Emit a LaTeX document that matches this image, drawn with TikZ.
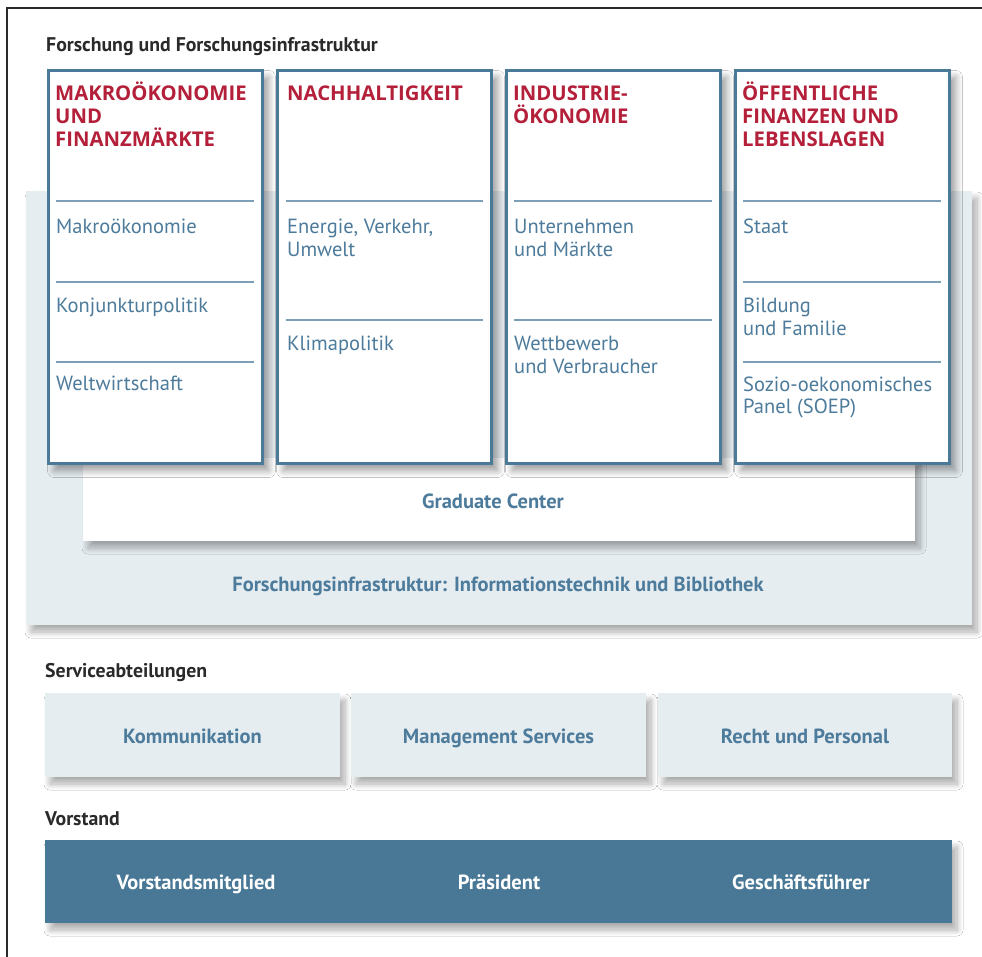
\documentclass[tikz,border=0pt]{standalone}
\usepackage{fontspec}
\setmainfont{PT Sans}
\newfontfamily\headfont{Open Sans}
\usetikzlibrary{shadows.blur}
\definecolor{framecol}{HTML}{2B2B2B}
\definecolor{redcol}{HTML}{B41F3A}
\definecolor{bluetext}{HTML}{4D7B9B}
\definecolor{bordercol}{HTML}{4B7A99}
\definecolor{sepcol}{HTML}{7C9FB7}
\definecolor{lightfill}{HTML}{E6EDF1}
\definecolor{darkfill}{HTML}{487896}
\definecolor{labelcol}{HTML}{2A2A2A}
\tikzset{
  shad/.style={blur shadow={shadow xshift=5pt, shadow yshift=-7pt, shadow blur radius=6pt, shadow blur steps=12, shadow opacity=32}},
  colshad/.style={blur shadow={shadow xshift=6pt, shadow yshift=-7pt, shadow blur radius=7pt, shadow blur steps=12, shadow opacity=40}},
  box/.style={rectangle, inner sep=0pt, outer sep=0pt, anchor=north west},
  lightbox/.style={box, fill=lightfill, shad},
  whitebox/.style={box, fill=white, shad},
  colbox/.style={box, fill=white, draw=bordercol, line width=2.6pt, colshad},
  darkbox/.style={box, fill=darkfill, shad},
  sepline/.style={draw=sepcol, line width=2pt},
  grouplabel/.style={anchor=base west, inner sep=0pt, text=labelcol, font=\fontsize{19.8}{21}\selectfont\bfseries},
  heading/.style={anchor=base west, inner sep=0pt, align=left, text=redcol, font=\headfont\fontsize{20.3}{23}\selectfont\bfseries},
  subtext/.style={anchor=base west, inner sep=0pt, align=left, text=bluetext, font=\fontsize{20.5}{22.5}\selectfont},
  bluelabel/.style={anchor=base, inner sep=0pt, text=bluetext, font=\fontsize{20.5}{22}\selectfont\bfseries},
  whitelabel/.style={anchor=base, inner sep=0pt, text=white, font=\fontsize{20.5}{22}\selectfont\bfseries},
}
\begin{document}
\begin{tikzpicture}[x=1pt,y=-1pt]
\useasboundingbox (0,0) rectangle (982,957);
\fill[white] (0,0) rectangle (982,957);
% frame
\coordinate (fbl) at (7,957);
\coordinate (ftl) at (7,8);
\coordinate (ftr) at (982,8);
\draw[framecol, line width=1.3pt] (fbl) -- (ftl) -- (ftr);

% group label
\node[grouplabel] (lab1) at (46,52) {Forschung und Forschungsinfrastruktur};

% infrastructure box
\node[lightbox, minimum width=946pt, minimum height=434pt] (infra) at (26,191) {};
\node[bluelabel] (infratext) at (498,591) {Forschungsinfrastruktur: Informationstechnik und Bibliothek};

% graduate center
\node[whitebox, minimum width=832pt, minimum height=83pt] (grad) at (83,458) {};
\node[bluelabel] (gradtext) at (493,508) {Graduate Center};

% columns
\node[colbox, minimum width=214pt, minimum height=393pt] (c1) at (48.5,70.5) {};
\node[colbox, minimum width=214pt, minimum height=393pt] (c2) at (277.5,70.5) {};
\node[colbox, minimum width=214pt, minimum height=393pt] (c3) at (506.5,70.5) {};
\node[colbox, minimum width=214pt, minimum height=393pt] (c4) at (735.5,70.5) {};

% column 1
\node[heading] (h1) at (55,147) {MAKROÖKONOMIE\\UND\\FINANZMÄRKTE};
\draw[sepline] (56,201) -- (254,201);
\node[subtext] (s11) at (56,234) {Makroökonomie};
\draw[sepline] (56,282) -- (254,282);
\node[subtext] (s12) at (56,313) {Konjunkturpolitik};
\draw[sepline] (56,362) -- (254,362);
\node[subtext] (s13) at (56,390) {Weltwirtschaft};

% column 2
\node[heading] (h2) at (287,101) {NACHHALTIGKEIT};
\draw[sepline] (286,201) -- (483,201);
\node[subtext] (s21) at (287,256.5) {Energie, Verkehr,\\Umwelt};
\draw[sepline] (286,320) -- (483,320);
\node[subtext] (s22) at (287,351) {Klimapolitik};

% column 3
\node[heading] (h3) at (513,124) {INDUSTRIE-\\ÖKONOMIE};
\draw[sepline] (514,201) -- (712,201);
\node[subtext] (s31) at (514,256.5) {Unternehmen\\und Märkte};
\draw[sepline] (514,320) -- (712,320);
\node[subtext] (s32) at (514,373.5) {Wettbewerb\\und Verbraucher};

% column 4
\node[heading] (h4) at (742,147) {ÖFFENTLICHE\\FINANZEN UND\\LEBENSLAGEN};
\draw[sepline] (743,201) -- (941,201);
\node[subtext] (s41) at (743,234) {Staat};
\draw[sepline] (743,282) -- (941,282);
\node[subtext] (s42) at (743,335.5) {Bildung\\und Familie};
\draw[sepline] (743,362) -- (941,362);
\node[subtext] (s43) at (743,413.5) {Sozio-oekonomisches\\Panel (SOEP)};

% service departments
\node[grouplabel] (lab2) at (45,677) {Serviceabteilungen};
\node[lightbox, minimum width=295pt, minimum height=84pt] (sv1) at (45,693) {};
\node[lightbox, minimum width=295pt, minimum height=84pt] (sv2) at (351,693) {};
\node[lightbox, minimum width=294pt, minimum height=84pt] (sv3) at (658,693) {};
\node[bluelabel] (sv1t) at (192.5,743) {Kommunikation};
\node[bluelabel] (sv2t) at (498.5,743) {Management Services};
\node[bluelabel] (sv3t) at (805,743) {Recht und Personal};

% board
\node[grouplabel] (lab3) at (45,825) {Vorstand};
\node[darkbox, minimum width=907pt, minimum height=83pt] (board) at (45,840) {};
\node[whitelabel] (b1) at (196,889) {Vorstandsmitglied};
\node[whitelabel] (b2) at (499,889) {Präsident};
\node[whitelabel] (b3) at (801,889) {Geschäftsführer};
\end{tikzpicture}
\end{document}
